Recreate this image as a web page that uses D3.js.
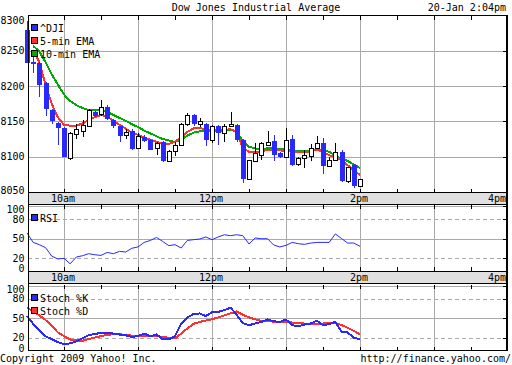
<!DOCTYPE html>
<html><head><meta charset="utf-8">
<script src="https://cdn.jsdelivr.net/npm/d3@7"></script>
<style>html,body{margin:0;padding:0;background:#fff}svg{display:block}</style>
</head><body>
<script>
const times = ["9:30","9:35","9:40","9:45","9:50","9:55",
"10:00","10:05","10:10","10:15","10:20","10:25","10:30","10:35","10:40","10:45","10:50","10:55",
"11:00","11:05","11:10","11:15","11:20","11:25","11:30","11:35","11:40","11:45","11:50","11:55",
"12:00","12:05","12:10","12:15","12:20","12:25","12:30","12:35","12:40","12:45","12:50","12:55",
"13:00","13:05","13:10","13:15","13:20","13:25","13:30","13:35","13:40","13:45","13:50","13:55","14:00"];
const openV  = [8280,8234,8233,8205,8166,8148,8141,8098,8132,8136,8144,8163,8160,8171,8152,8143,8131,8137,8112,8128,8124,8112,8121,8094,8108,8116,8146,8159,8146,8147,8123,8144,8133,8144,8145,8124,8069,8094,8103,8117,8122,8105,8100,8125,8089,8098,8101,8113,8120,8087,8095,8106,8065,8088,8058];
const highV  = [8292,8242,8234,8206,8168,8149,8142,8135,8146,8152,8168,8165,8180,8173,8153,8144,8139,8139,8134,8131,8125,8121,8122,8109,8121,8148,8162,8160,8155,8148,8145,8145,8146,8163,8146,8125,8096,8120,8121,8136,8131,8106,8140,8131,8100,8110,8118,8130,8126,8099,8120,8110,8086,8089,8069];
const lowV   = [8233,8218,8185,8157,8147,8117,8099,8096,8125,8128,8143,8156,8158,8152,8141,8121,8125,8109,8111,8121,8109,8102,8093,8092,8101,8115,8143,8144,8142,8115,8120,8117,8121,8143,8121,8063,8068,8093,8096,8115,8094,8098,8099,8087,8087,8084,8094,8112,8076,8085,8094,8064,8063,8055,8057];
const closeV = [8233,8232,8201,8168,8150,8140,8100,8134,8139,8145,8166,8157,8170,8153,8143,8130,8135,8111,8130,8122,8110,8120,8094,8108,8116,8147,8159,8147,8150,8124,8144,8133,8144,8146,8123,8068,8095,8105,8119,8121,8102,8099,8124,8088,8098,8102,8113,8120,8087,8096,8106,8066,8085,8058,8068];
const ema5   = [null,8251,8234,8202,8175,8156,8145,8144,8144,8147,8152,8156,8159,8157,8151,8145,8140,8134,8131,8127,8124,8121,8119,8118,8121,8128,8135,8140,8141,8138,8138,8138,8138,8139,8135,8112,8107,8106,8107,8110,8110,8109,8108,8107,8106,8106,8108,8110,8107,8102,8100,8095,8088,8081,8074];
const ema10  = [null,8257,8249,8234,8217,8202,8188,8179,8173,8169,8166,8166,8166,8164,8159,8155,8151,8146,8142,8137,8133,8129,8125,8123,8121,8124,8130,8134,8136,8136,8137,8137,8137,8138,8136,8122,8114,8112,8110,8112,8112,8111,8110,8109,8108,8108,8109,8110,8109,8107,8102,8097,8094,8089,8084];
const rsiV   = [58.5,44,40.5,36,23,18.5,19.5,11,21.5,23.5,26.6,25,24,28.6,26.6,30.2,29.2,35,37,44,47,51.7,45.5,39,40.5,35.4,47,48.2,49.2,52.3,48.2,52.3,55.8,54.3,55.8,54.3,41.5,50.8,49.7,49.7,40,37,39.4,44,42,41,43,44,44,44,57,50,43,43,38];
const stochK = [53,41,31,22,17.5,13,9.5,11,14,19,23.5,25.5,27,27,26,24.6,23.5,20.5,22.5,26,22,24.6,17.5,17,22,41.5,51,56,57,53,59,59.4,62,66,55,42,39,41.5,44,47.7,45,44,47.7,38.9,37.4,40,41.5,46,38.9,40.5,44,29,27.7,19.5,17.4];
const stochD = [66,60,54,47,38,28,22,17,15.5,15,17.5,20,22,24,25,25,24,23,22.5,22,22,22,21,19.5,18.5,26,34,41,44,46,48,51,54,57,60,55,51,48,45.5,45,44.5,44.3,44,43,42.5,41.5,41.5,41.5,41.5,42,42.5,39,35,30,25];
const priceTicks = [8300,8250,8200,8150,8100,8050];
const oscTicks = [100,80,50,20,0];
const hourTicks = [10,11,12,13,14,15,16];
const halfTicks = [10,10.5,11,11.5,12,12.5,13,13.5,14,14.5,15,15.5];
const timeLabels = [{h:10,t:"10am"},{h:12,t:"12pm"},{h:14,t:"2pm"},{h:16,t:"4pm"}];
const title = "Dow Jones Industrial Average";
const stamp = "20-Jan 2:04pm";

const W=512,H=365;
const BLUE="#2828ff", RED="#ff3030", GREEN="#00aa00", GRID="#aaaaaa", BAND="#e0e0e0";
const FONT="'DejaVu Sans Mono', monospace";
const L=28, R=508;
const svg=d3.select("body").append("svg").attr("width",W).attr("height",H).style("font-family",FONT).style("font-size","10px");
const toH = s=>{const [h,m]=s.split(":").map(Number);return h+m/60;};
const x=d3.scaleLinear().domain([9.5,16]).range([27,508]);
const cx=i=>x(toH(times[i]));
const yP=d3.scaleLinear().domain([8050,8300]).range([192,15.5]);
const yR=d3.scaleLinear().domain([0,100]).range([271,206]);
const yS=d3.scaleLinear().domain([0,100]).range([350.5,285.5]);

svg.append("text").attr("x",256).attr("y",11).attr("text-anchor","middle").text(title);
svg.append("text").attr("x",506).attr("y",11).attr("text-anchor","end").text(stamp);

function panel(top,bottom,yScale,ticks,dashed){
  const g=svg.append("g").attr("shape-rendering","crispEdges");
  hourTicks.filter(h=>h<16).forEach(h=>{
    g.append("line").attr("x1",Math.round(x(h))+0.5).attr("x2",Math.round(x(h))+0.5).attr("y1",top).attr("y2",bottom).attr("stroke",GRID);
  });
  ticks.forEach(v=>{
    const yy=Math.round(yScale(v))+0.5;
    if(yy<=top+1||yy>=bottom-1) return;
    const ln=g.append("line").attr("x1",L).attr("x2",R).attr("y1",yy).attr("y2",yy).attr("stroke",GRID);
    if(dashed && (v===80||v===20)) ln.attr("stroke-dasharray","4,3");
    g.append("line").attr("x1",503).attr("x2",507).attr("y1",yy).attr("y2",yy).attr("stroke","#000");
  });
  halfTicks.forEach(h=>{
    const xx=Math.round(x(h))+0.5;
    g.append("line").attr("x1",xx).attr("x2",xx).attr("y1",top).attr("y2",top+4).attr("stroke","#000");
    g.append("line").attr("x1",xx).attr("x2",xx).attr("y1",bottom-4).attr("y2",bottom).attr("stroke","#000");
  });
  ticks.forEach(v=>{
    let yy=yScale(v);
    yy=Math.max(top+4.5,Math.min(bottom-2.5,yy));
    svg.append("text").attr("x",24.5).attr("y",yy+3.6).attr("text-anchor","end").text(v);
  });
  return g;
}
function band(top,bottom){
  const g=svg.append("g").attr("shape-rendering","crispEdges");
  g.append("rect").attr("x",L).attr("y",top).attr("width",R-L).attr("height",bottom-top).attr("fill",BAND);
  g.append("line").attr("x1",L).attr("x2",R).attr("y1",top-0.5).attr("y2",top-0.5).attr("stroke","#000");
  g.append("line").attr("x1",L).attr("x2",R).attr("y1",bottom+0.5).attr("y2",bottom+0.5).attr("stroke","#000");
  timeLabels.forEach(d=>{
    const t=svg.append("text").attr("y",bottom-2).text(d.t);
    if(d.h===16) t.attr("x",506).attr("text-anchor","end");
    else t.attr("x",x(d.h)-1).attr("text-anchor","middle");
  });
}

panel(15.5,192.5,yP,priceTicks,false);
panel(205,271,yR,oscTicks,true);
panel(284.5,350.5,yS,oscTicks,true);

const lineP=(arr)=>d3.line().defined(d=>d!=null).x((d,i)=>cx(i)).y(d=>yP(d))(arr);
svg.append("path").attr("d",lineP(ema10)).attr("fill","none").attr("stroke",GREEN).attr("stroke-width",2).attr("shape-rendering","crispEdges");
svg.append("path").attr("d",lineP(ema5)).attr("fill","none").attr("stroke",RED).attr("stroke-width",2).attr("shape-rendering","crispEdges");

const cg=svg.append("g").attr("shape-rendering","crispEdges");
times.forEach((t,i)=>{
  const c=Math.round(cx(i));
  const up=closeV[i]>=openV[i];
  const col=up?"#000":BLUE;
  cg.append("line").attr("x1",c+0.5).attr("x2",c+0.5).attr("y1",yP(highV[i])).attr("y2",yP(lowV[i])).attr("stroke",col);
  const yt=Math.round(yP(Math.max(openV[i],closeV[i])));
  const yb=Math.round(yP(Math.min(openV[i],closeV[i])));
  if(up){
    cg.append("rect").attr("x",c-2+0.5).attr("y",yt+0.5).attr("width",4).attr("height",Math.max(1,yb-yt)).attr("fill","#fff").attr("stroke","#000");
  } else {
    cg.append("rect").attr("x",c-2).attr("y",yt).attr("width",5).attr("height",Math.max(1,yb-yt)).attr("fill",BLUE);
  }
});

svg.append("path").attr("d",d3.line().x((d,i)=>cx(i)).y(d=>yR(d))(rsiV)).attr("fill","none").attr("stroke",BLUE).attr("stroke-width",1);
svg.append("path").attr("d",d3.line().x((d,i)=>cx(i)).y(d=>yS(d))(stochD)).attr("fill","none").attr("stroke",RED).attr("stroke-width",2).attr("shape-rendering","crispEdges");
svg.append("path").attr("d",d3.line().x((d,i)=>cx(i)).y(d=>yS(d))(stochK)).attr("fill","none").attr("stroke",BLUE).attr("stroke-width",2).attr("shape-rendering","crispEdges");

band(193,204);
band(272,283);

const bg=svg.append("g").attr("shape-rendering","crispEdges");
bg.append("line").attr("x1",L).attr("x2",R).attr("y1",15.5).attr("y2",15.5).attr("stroke","#000");
bg.append("line").attr("x1",L).attr("x2",R).attr("y1",350.5).attr("y2",350.5).attr("stroke","#000");
bg.append("line").attr("x1",L+0.5).attr("x2",L+0.5).attr("y1",15).attr("y2",351).attr("stroke","#000");
bg.append("line").attr("x1",507).attr("x2",507).attr("y1",15).attr("y2",351).attr("stroke","#000").attr("stroke-width",2);

function legend(items,y0){
  items.forEach((d,i)=>{
    const yy=y0+i*13;
    svg.append("rect").attr("x",31.5).attr("y",yy+0.5).attr("width",6).attr("height",6).attr("fill",d.c).attr("stroke","#000").attr("shape-rendering","crispEdges");
    svg.append("text").attr("x",40).attr("y",yy+8).text(d.t);
  });
}
legend([{t:"^DJI",c:BLUE},{t:"5-min EMA",c:RED},{t:"10-min EMA",c:GREEN}],24);
legend([{t:"RSI",c:BLUE}],214);
legend([{t:"Stoch %K",c:BLUE},{t:"Stoch %D",c:RED}],294);

svg.append("text").attr("x",0).attr("y",362).text("Copyright 2009 Yahoo! Inc.");
svg.append("text").attr("x",511).attr("y",362).attr("text-anchor","end").text("http://finance.yahoo.com/");
</script>
</body></html>
